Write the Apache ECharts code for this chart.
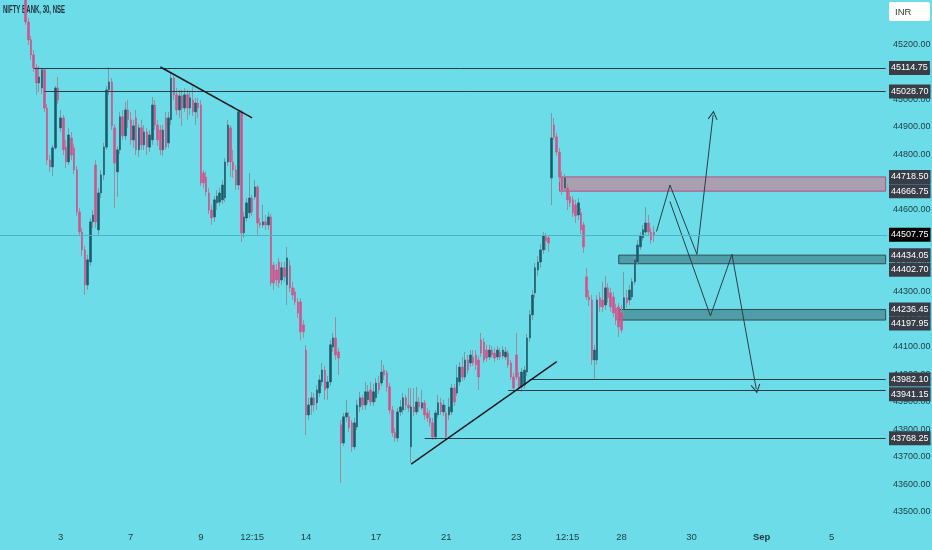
<!DOCTYPE html>
<html><head><meta charset="utf-8">
<script src="https://cdn.jsdelivr.net/npm/echarts@6/dist/echarts.min.js"></script>
<style>html,body{margin:0;padding:0;background:#6cdde8}#c{width:932px;height:550px}</style>
</head><body><div id="c"></div><script>
// ---- categories (30-minute NSE sessions) ----
const tradingDays = ['08-01','08-02','08-03','08-04','08-07','08-08','08-09','08-10','08-11','08-14','08-16','08-17','08-18','08-21','08-22','08-23','08-24','08-25','08-28','08-29','08-30','08-31','09-01','09-04','09-05','09-06'];
const sessionTimes = ['09:15','09:45','10:15','10:45','11:15','11:45','12:15','12:45','13:15','13:45','14:15','14:45','15:15'];
const tickCats   = ['08-03 09:15','08-07 09:15','08-09 09:15','08-10 12:15','08-14 09:15','08-17 09:15','08-21 09:15','08-23 09:15','08-24 12:15','08-28 09:15','08-30 09:15','09-01 09:15','09-05 09:15'];
const tickLabels = ['3','7','9','12:15','14','17','21','23','12:15','28','30','Sep','5'];

// ---- OHLC values (Aug 2 09:15 .. Aug 28 15:15) ----
const openP = [45417,45282,45217,45162,45115,45060,45042,45108,44969,44780,44755,44824,45042,
44897,44933,44827,44773,44860,44824,44744,44591,44518,44453,44326,44409,44555,
44762,44526,44660,44726,44827,45035,45064,44897,44737,44817,44937,44868,44962,
44926,44853,44933,44817,44897,44835,44882,44827,44853,44980,44907,44889,44817,
44933,44842,44926,45078,45017,44962,45013,44969,45017,44969,44998,44955,44987,
44980,44733,44718,44660,44598,44573,44624,44627,44635,44642,44773,44897,44773,
44744,44689,44955,44515,44569,44588,44642,44646,44682,44551,44544,44555,44544,
44573,44398,44380,44409,44344,44388,44326,44395,44315,44300,44264,44264,44180,
44089,43853,43889,43915,43897,43933,43973,44016,43951,43973,44100,44133,44082,
43817,43751,43846,43846,43824,43737,43809,43882,43915,43889,43908,43944,43900,
43915,43969,43969,44016,44006,43955,43871,43788,43769,43864,43871,43915,43889,
43737,43882,43864,43900,43878,43897,43860,43842,43824,43773,43853,43897,43864,
43860,43853,43864,43951,43933,43973,44027,43991,44053,44042,44064,44071,44053,
44126,44118,44089,44064,44089,44078,44064,44082,44068,44064,44078,44042,43991,
44071,43991,43955,43962,44009,44133,44217,44297,44380,44409,44453,44500,44497,
44715,44907,44864,44809,44718,44678,44678,44646,44635,44617,44580,44588,44544,
44355,44282,44271,44053,44053,44279,44271,44253,44315,44297,44282,44242,44246,
44224,44235,44279,44271,44282,44337,44409,44464,44497,44518,44551,44518,44518];
const closeP = [45282,45217,45162,45115,45060,45082,45108,44969,44780,44755,44824,45042,44998,
44933,44817,44773,44871,44798,44744,44591,44518,44453,44326,44417,44555,44580,
44555,44660,44726,44827,45035,45064,44904,44769,44817,44937,44868,44962,44926,
44853,44904,44817,44897,44835,44882,44827,44871,44980,44907,44853,44817,44889,
44827,44933,45078,45017,44962,45013,44969,45017,44969,45006,44955,44987,44969,
44697,44697,44664,44598,44569,44635,44649,44660,44689,44773,44907,44773,44744,
44689,44955,44515,44573,44624,44642,44591,44682,44551,44544,44555,44544,44573,
44333,44333,44344,44333,44388,44355,44424,44315,44289,44264,44224,44155,44155,
43853,43889,43915,43889,43944,43980,44016,43944,43973,44108,44133,44071,44060,
43751,43846,43860,43806,43737,43824,43889,43915,43889,43937,43937,43900,43937,
43969,43944,44009,43998,43955,43871,43788,43769,43864,43882,43915,43889,43878,
43882,43864,43900,43882,43897,43853,43842,43824,43773,43860,43897,43864,43889,
43773,43882,43951,43900,43988,44027,43991,44053,44016,44071,44042,44035,43991,
44078,44053,44060,44089,44071,44060,44089,44064,44089,44082,44035,43991,43951,
43991,43951,44009,44016,44133,44217,44289,44388,44409,44453,44504,44486,44478,
44860,44864,44809,44718,44671,44715,44635,44624,44588,44577,44624,44526,44464,
44282,44271,44053,44089,44271,44246,44246,44315,44279,44246,44224,44198,44173,
44162,44279,44260,44307,44337,44417,44471,44504,44526,44551,44518,44489,44507.75];
const lowP = [45271,45198,45144,45100,45017,45027,45020,44955,44762,44737,44722,44817,44984,
44882,44798,44751,44762,44780,44729,44577,44504,44431,44289,44308,44395,44533,
44533,44504,44642,44707,44817,45017,44889,44606,44646,44802,44853,44853,44897,
44835,44824,44798,44791,44817,44817,44798,44809,44835,44889,44831,44798,44795,
44817,44824,44907,44998,44944,44933,44904,44955,44926,44944,44940,44907,44933,
44686,44678,44649,44584,44544,44555,44598,44613,44620,44627,44758,44718,44715,
44671,44671,44482,44497,44555,44569,44577,44635,44508,44533,44533,44526,44526,
44322,44308,44322,44315,44326,44337,44253,44300,44271,44253,44206,44125,44133,
43780,43835,43853,43864,43871,43918,43958,43908,43908,43958,44082,44053,43998,
43606,43740,43828,43791,43719,43726,43798,43864,43871,43871,43893,43886,43886,
43900,43929,43958,43980,43937,43857,43773,43755,43755,43849,43857,43871,43864,
43679,43849,43853,43864,43871,43835,43828,43809,43762,43762,43842,43853,43849,
43762,43835,43853,43886,43922,43958,43977,43980,44002,44028,44031,44016,43944,
44064,44042,44046,44053,44060,44046,44053,44053,44057,44053,44024,43980,43940,
43980,43940,43937,43948,43995,44118,44198,44279,44359,44388,44438,44453,44446,
44616,44853,44795,44700,44653,44664,44598,44609,44573,44551,44562,44511,44442,
44271,44249,44035,43982,44035,44228,44228,44235,44260,44228,44209,44180,44137,
44151,44217,44242,44253,44271,44326,44398,44453,44486,44508,44504,44475,44482];
const highP = [45453,45297,45231,45180,45129,45122,45116,45112,44984,44798,44835,45049,45082,
44962,44944,44853,44897,44882,44838,44758,44606,44533,44468,44435,44569,44598,
44780,44678,44744,44842,45049,45118,45078,44911,44831,44955,44962,44991,44998,
44955,44926,44962,44911,44926,44907,44897,44889,45009,44998,44926,44907,44907,
44955,44955,45097,45086,45042,45035,45035,45042,45035,45027,45046,45006,45006,
44998,44744,44737,44678,44617,44649,44671,44678,44707,44787,44926,44907,44817,
44762,44962,44962,44591,44642,44733,44653,44707,44689,44569,44617,44580,44591,
44584,44409,44402,44424,44409,44409,44464,44417,44337,44315,44278,44278,44198,
44107,43915,43937,43933,43962,43998,44042,44031,43995,44125,44151,44209,44097,
43835,43860,43908,43864,43835,43842,43908,43937,43926,43973,43962,43973,43966,
43987,43995,44053,44035,44016,43969,43886,43806,43879,43908,43933,43926,43951,
43951,43951,43955,43918,43944,43908,43878,43871,43842,43871,43926,43915,43908,
43889,43915,43966,43966,44035,44046,44064,44082,44071,44089,44089,44089,44068,
44151,44133,44108,44108,44104,44097,44104,44097,44104,44100,44089,44053,44006,
44151,44009,44024,44031,44148,44235,44308,44406,44431,44475,44518,44515,44508,
44951,44933,44878,44824,44737,44729,44693,44664,44649,44635,44642,44606,44555,
44388,44307,44289,44108,44289,44300,44337,44358,44333,44315,44300,44257,44260,
44253,44373,44307,44326,44351,44431,44489,44518,44544,44609,44580,44533,44540];

// ---- annotations (data coordinates: [category index, price]) ----
const levelLines = [[45114.75, 12], [45028.70, 16], [43982.10, 196], [43941.15, 188], [43768.25, 157]];
const zones = [[44718.50, 44666.75, 207, 'pink'], [44434.05, 44402.70, 229, 'teal'], [44236.45, 44197.95, 229, 'teal']];
const axisBoxes = [45114.75, 45028.70, 44718.50, 44666.75, 44434.05, 44402.70, 44236.45, 44197.95, 43982.10, 43941.15, 43768.25];
const boxNudge = {44402.70: 6, 44197.95: 3.5, 43941.15: 3.5};
const lastPrice = 44507.75;
const downTrend = [[59, 45118], [93, 44933]];
const upTrend = [[152, 43674], [206, 44047]];
const zigzag1 = [[243, 44520], [248, 44689], [258, 44437], [264, 44944]];
const zigzag2 = [[248, 44629], [263, 44213], [271, 44437], [280, 43947]];

const N_SLOTS = 329, LEAD = 9, SKIP = 4;
const allCats = [];
tradingDays.forEach(d => sessionTimes.forEach(t => allCats.push(d + ' ' + t)));
const cats = allCats.slice(SKIP, SKIP + N_SLOTS);
const pad = Array(LEAD).fill('-');
const wickData = pad.concat(openP.map((o, i) => [o, closeP[i], Math.min(lowP[i], o, closeP[i]), Math.max(highP[i], o, closeP[i])]));
const bodyData = pad.concat(openP.map((o, i) => [o, closeP[i], Math.min(o, closeP[i]), Math.max(o, closeP[i])]));

const F = "'Liberation Sans',sans-serif";
const LAST = N_SLOTS - 1;
const lineCol = '#2c3d48';
const mlData = [];
levelLines.forEach(([p, s]) => mlData.push([{coord: [s, p], lineStyle: {color: lineCol, width: 1, type: 'solid'}}, {coord: [LAST, p]}]));
function seg(pts, style, arrow) {
  for (let k = 0; k < pts.length - 1; k++) {
    const isLast = k === pts.length - 2;
    mlData.push([{coord: pts[k], lineStyle: style, symbol: 'none'},
                 {coord: pts[k + 1], symbol: (arrow && isLast) ? 'path://M0,10 L5,0 L10,10 L8.8,10 L5,2.6 L1.2,10 Z' : 'none', symbolSize: [10, 9]}]);
  }
}
seg(downTrend, {color: '#111820', width: 1.6, type: 'solid'}, false);
seg(upTrend, {color: '#111820', width: 1.4, type: 'solid'}, false);
seg(zigzag1, {color: '#2c3d48', width: 1, type: 'solid'}, true);
seg(zigzag2, {color: '#2c3d48', width: 1, type: 'solid'}, true);
const boxLabel = (bg, dy) => ({show: true, position: 'end', distance: 2, color: '#fff', backgroundColor: bg,
  padding: [2, 2, 2, 2], fontSize: 9, lineHeight: 10, fontFamily: F, offset: [0, dy || 0],
  formatter: (p) => Number(p.value).toFixed(2)});
mlData.push({yAxis: lastPrice, lineStyle: {color: '#4cb3c0', width: 1, type: 'solid'}, label: boxLabel('#000000', 0)});
axisBoxes.forEach(p => mlData.push({yAxis: p, lineStyle: {color: 'rgba(0,0,0,0)', width: 1}, label: boxLabel('#393d48', boxNudge[p])}));

const maData = zones.map(([hi, lo, s, kind]) => [
  {coord: [s, hi], itemStyle: kind === 'pink'
     ? {color: '#a99fb1', borderColor: '#b44d83', borderWidth: 1}
     : {color: '#4f9da6', borderColor: '#2f4d58', borderWidth: 1}},
  {coord: [LAST, lo]}]);

const chart = echarts.init(document.getElementById('c'), null, {renderer: 'canvas'});
chart.setOption({
  animation: false,
  backgroundColor: '#6cdde8',
  grid: {left: 0, right: 45, top: 0, bottom: 10.5, containLabel: false, outerBoundsMode: 'none'},
  xAxis: {type: 'category', data: cats, boundaryGap: true,
    axisLine: {show: false}, axisTick: {show: false}, splitLine: {show: false},
    axisLabel: {margin: -7, color: '#1c3a46', fontSize: 9.5, fontFamily: F,
      interval: (i, v) => tickCats.indexOf(v) >= 0,
      formatter: (v) => { const t = tickLabels[tickCats.indexOf(v)]; return t === 'Sep' ? '{b|Sep}' : t; },
      rich: {b: {fontWeight: 'bold', fontSize: 9.5, fontFamily: F, color: '#1c3a46'}}}},
  yAxis: {type: 'value', position: 'right', min: 43400, max: 45361.8, interval: 100,
    axisLine: {show: false}, axisTick: {show: false}, splitLine: {show: false},
    axisLabel: {margin: 6, color: '#1c3a46', fontSize: 9, fontFamily: F,
      formatter: (v) => (v < 43500 || v > 45200) ? '' : v.toFixed(2)}},
  series: [
    {type: 'candlestick', name: 'wick', data: wickData, barWidth: 1, clip: true,
      itemStyle: {color: '#7d98a2', color0: '#a58a9c', borderColor: '#7d98a2', borderColor0: '#a58a9c', borderWidth: 1},
      markArea: {silent: true, data: maData},
      markLine: {silent: true, symbol: ['none', 'none'], label: {show: false}, data: mlData}},
    {type: 'candlestick', name: 'body', data: bodyData, barWidth: 2, clip: true,
      itemStyle: {color: '#1d5b6b', color0: '#d2528b', borderColor: '#1d5b6b', borderColor0: '#d2528b', borderWidth: 0.6}}
  ],
  graphic: [
    {type: 'text', left: 3, top: 5, scaleX: 0.6, style: {text: 'NIFTY BANK, 30, NSE', fill: '#1b2c37', font: "bold 10px 'Liberation Sans',sans-serif"}},
    {type: 'rect', shape: {x: 889, y: 2, width: 41, height: 19, r: 2}, style: {fill: '#ffffff'}, z: 100},
    {type: 'text', x: 895, y: 7, style: {text: 'INR', fill: '#3a3a3a', font: "9.5px 'Liberation Sans',sans-serif"}, z: 101}
  ]
});
</script></body></html>
